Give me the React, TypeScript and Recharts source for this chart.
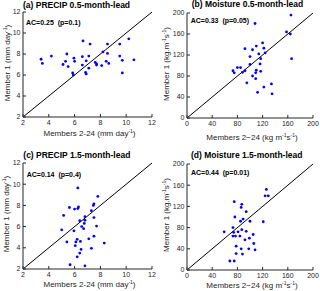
import React from 'react';
import { ScatterChart, Scatter, XAxis, YAxis, ReferenceLine } from 'recharts';

const precipTicks = [2, 4, 6, 8, 10, 12];
const moistureTicks = [0, 40, 80, 120, 160, 200];

// (a) PRECIP 0.5-month-lead
const precip05Ens = [3.4, 3.5, 4.2, 5.4, 5.3, 5.1, 5.5, 5.85, 5.9, 5.95, 6.0, 6.6, 6.65, 6.6, 7.2, 7.1, 6.9, 7.1, 6.85, 6.9, 7.6, 7.7, 7.7, 8.1, 8.2, 8.55, 8.55, 8.45, 8.65, 9.5, 9.5, 9.7, 9.7, 10.2, 10.6];
const precip05M1 = [7.5, 7.1, 7.8, 8.0, 7.3, 7.0, 6.8, 6.2, 6.0, 7.6, 7.3, 7.75, 9.25, 6.95, 8.95, 7.8, 7.35, 6.65, 6.25, 6.1, 7.2, 6.95, 7.05, 6.9, 8.2, 8.95, 8.05, 7.3, 7.1, 8.95, 7.8, 7.4, 6.2, 9.45, 7.45];

// (b) Moisture 0.5-month-lead
const moist05Ens = [165, 108, 158, 164, 166, 120, 110, 92, 104, 122, 114, 124, 100, 117, 100, 116, 80, 85, 73, 75, 88, 92, 110, 109, 117, 104, 109, 95, 134, 122, 112, 135];
const moist05M1 = [196, 180, 164, 160, 113, 143, 137, 132, 130, 133, 122, 124, 117, 113, 102, 103, 96, 96, 90, 86, 87, 90, 91, 86, 89, 80, 75, 67, 65, 59, 49, 46];

// (c) PRECIP 1.5-month-lead
const precip15Ens = [6.25, 7.8, 5.6, 6.3, 6.25, 6.0, 7.5, 7.45, 5.15, 7.3, 6.8, 6.4, 6.8, 6.75, 7.5, 6.55, 6.7, 5.0, 5.95, 7.7, 7.1, 7.5, 5.4, 6.2, 6.1, 6.45, 8.3, 6.05, 6.5, 7.3, 6.4, 6.2, 5.65, 6.8];
const precip15M1 = [9.65, 8.85, 7.8, 7.85, 7.7, 7.65, 8.15, 8.0, 7.05, 7.5, 6.95, 6.55, 6.6, 6.3, 6.85, 6.0, 5.8, 5.7, 5.6, 6.05, 4.85, 5.1, 4.55, 4.8, 4.55, 4.6, 4.45, 4.2, 3.85, 3.95, 3.5, 3.15, 2.4, 2.3];

// (d) Moisture 1.5-month-lead
const moist15Ens = [126, 124, 129, 75, 87, 86, 94, 76, 89, 85, 100, 121, 73, 59, 74, 81, 87, 94, 73, 77, 84, 105, 99, 92, 106, 78, 86, 98, 108, 78, 88, 68, 75];
const moist15M1 = [152, 140, 140, 129, 124, 118, 110, 100, 96, 92, 92, 91, 80, 72, 71, 72, 76, 73, 64, 64, 64, 67, 60, 57, 50, 45, 40, 40, 38, 31, 30, 17, 17];

const FONT = '"Liberation Sans", Arial, sans-serif';
const AXIS = '#262626';

const toPoints = (xs: number[], ys: number[]) => xs.map((x, i) => ({ x, y: ys[i] }));

function Dot(props: any) {
    const { cx, cy } = props;
    if (cx == null || cy == null) return null;
    return <circle cx={cx} cy={cy} r={1.4} fill="#0000ff" />;
}

const Sup = ({ children }: { children: React.ReactNode }) => (
    <span style={{ fontSize: 5, position: 'relative', top: -3, lineHeight: '5px' }}>{children}</span>
);

interface PanelProps {
    left: number;
    top: number;
    plot: { l: number; t: number; r: number; b: number };
    ticks: number[];
    data: { x: number; y: number }[];
    title: string;
    titlePos: [number, number];
    ac: string;
    acPos: [number, number];
    xLabel: React.ReactNode;
    xLabelY: number;
    yLabel: React.ReactNode;
    yLabelX: number;
}

const W = 160;
const H = 146;

function Panel(p: PanelProps) {
    const domain: [number, number] = [p.ticks[0], p.ticks[p.ticks.length - 1]];
    const tickStyle = { fontSize: 7, fill: AXIS, fontFamily: FONT };
    return (
        <div style={{ position: 'absolute', left: p.left, top: p.top, width: W, height: H }}>
            <ScatterChart
                width={W}
                height={H}
                margin={{ top: p.plot.t, right: W - p.plot.r, bottom: 0, left: 0 }}
            >
                <XAxis
                    type="number"
                    dataKey="x"
                    domain={domain}
                    ticks={p.ticks}
                    height={H - p.plot.b}
                    tick={tickStyle}
                    tickSize={-3}
                    tickMargin={6.5}
                    stroke={AXIS}
                    interval={0}
                />
                <YAxis
                    type="number"
                    dataKey="y"
                    domain={domain}
                    ticks={p.ticks}
                    width={p.plot.l}
                    tick={tickStyle}
                    tickSize={-3}
                    tickMargin={5.5}
                    stroke={AXIS}
                    interval={0}
                />
                <XAxis
                    xAxisId="top"
                    orientation="top"
                    type="number"
                    domain={domain}
                    ticks={p.ticks}
                    height={0}
                    tick={false}
                    tickSize={-3}
                    stroke={AXIS}
                />
                <YAxis
                    yAxisId="right"
                    orientation="right"
                    type="number"
                    domain={domain}
                    ticks={p.ticks}
                    width={0}
                    tick={false}
                    tickSize={-3}
                    stroke={AXIS}
                />
                <ReferenceLine
                    segment={[{ x: domain[0], y: domain[0] }, { x: domain[1], y: domain[1] }]}
                    stroke="#000"
                    strokeWidth={1}
                />
                <Scatter data={p.data} shape={Dot} isAnimationActive={false} />
            </ScatterChart>
            <div
                style={{
                    position: 'absolute', left: p.titlePos[0], top: p.titlePos[1] - 5,
                    fontFamily: FONT, fontWeight: 'bold', fontSize: 8.5, lineHeight: '10px',
                    whiteSpace: 'nowrap', color: '#000',
                }}
            >
                {p.title}
            </div>
            <div
                style={{
                    position: 'absolute', left: p.acPos[0], top: p.acPos[1] - 4.5,
                    fontFamily: FONT, fontWeight: 'bold', fontSize: 7, lineHeight: '9px',
                    whiteSpace: 'pre', color: '#000',
                }}
            >
                {p.ac}
            </div>
            <div
                style={{
                    position: 'absolute', left: (p.plot.l + p.plot.r) / 2 + 2, top: p.xLabelY,
                    transform: 'translate(-50%, -50%)',
                    fontFamily: FONT, fontSize: 8, lineHeight: '9px', whiteSpace: 'nowrap', color: AXIS,
                }}
            >
                {p.xLabel}
            </div>
            <div
                style={{
                    position: 'absolute', left: p.yLabelX, top: (p.plot.t + p.plot.b) / 2 - 2,
                    transform: 'translate(-50%, -50%) rotate(-90deg)',
                    fontFamily: FONT, fontSize: 8, lineHeight: '9px', whiteSpace: 'nowrap', color: AXIS,
                }}
            >
                {p.yLabel}
            </div>
        </div>
    );
}

const mmLabelX = <>Members 2-24 (mm day<Sup>-1</Sup>)</>;
const mmLabelY = <>Member 1 (mm day<Sup>-1</Sup>)</>;
const kgLabelX = <>Members 2−24 (kg m<Sup>-1</Sup>s<Sup>-1</Sup>)</>;
const kgLabelY = <>Member 1 (kg.m<Sup>-1</Sup>s<Sup>-1</Sup>)</>;

export default function App() {
    return (
        <div style={{ position: 'absolute', left: 0, top: 0, width: 320, height: 291, background: '#fff' }}>
            <Panel
                left={0} top={0}
                plot={{ l: 23, t: 12, r: 152, b: 117 }}
                ticks={precipTicks}
                data={toPoints(precip05Ens, precip05M1)}
                title="(a) PRECIP 0.5-month-lead" titlePos={[23, 5]}
                ac="AC=0.25  (p=0.1)" acPos={[26, 22.7]}
                xLabel={mmLabelX} xLabelY={132.5}
                yLabel={mmLabelY} yLabelX={7}
            />
            <Panel
                left={160} top={0}
                plot={{ l: 27, t: 13, r: 153, b: 118 }}
                ticks={moistureTicks}
                data={toPoints(moist05Ens, moist05M1)}
                title="(b) Moisture 0.5-month-lead" titlePos={[31.7, 4]}
                ac="AC=0.33  (p=0.05)" acPos={[30.7, 20]}
                xLabel={kgLabelX} xLabelY={136.5}
                yLabel={kgLabelY} yLabelX={5.7}
            />
            <Panel
                left={0} top={145}
                plot={{ l: 23, t: 18, r: 152, b: 124 }}
                ticks={precipTicks}
                data={toPoints(precip15Ens, precip15M1)}
                title="(c) PRECIP 1.5-month-lead" titlePos={[23.3, 10]}
                ac="AC=0.14  (p=0.4)" acPos={[26.7, 29.3]}
                xLabel={mmLabelX} xLabelY={139.3}
                yLabel={mmLabelY} yLabelX={5.7}
            />
            <Panel
                left={160} top={145}
                plot={{ l: 27, t: 19, r: 153, b: 125 }}
                ticks={moistureTicks}
                data={toPoints(moist15Ens, moist15M1)}
                title="(d) Moisture 1.5-month-lead" titlePos={[31, 10]}
                ac="AC=0.44  (p=0.01)" acPos={[31, 27.3]}
                xLabel={kgLabelX} xLabelY={140}
                yLabel={kgLabelY} yLabelX={5.7}
            />
        </div>
    );
}
